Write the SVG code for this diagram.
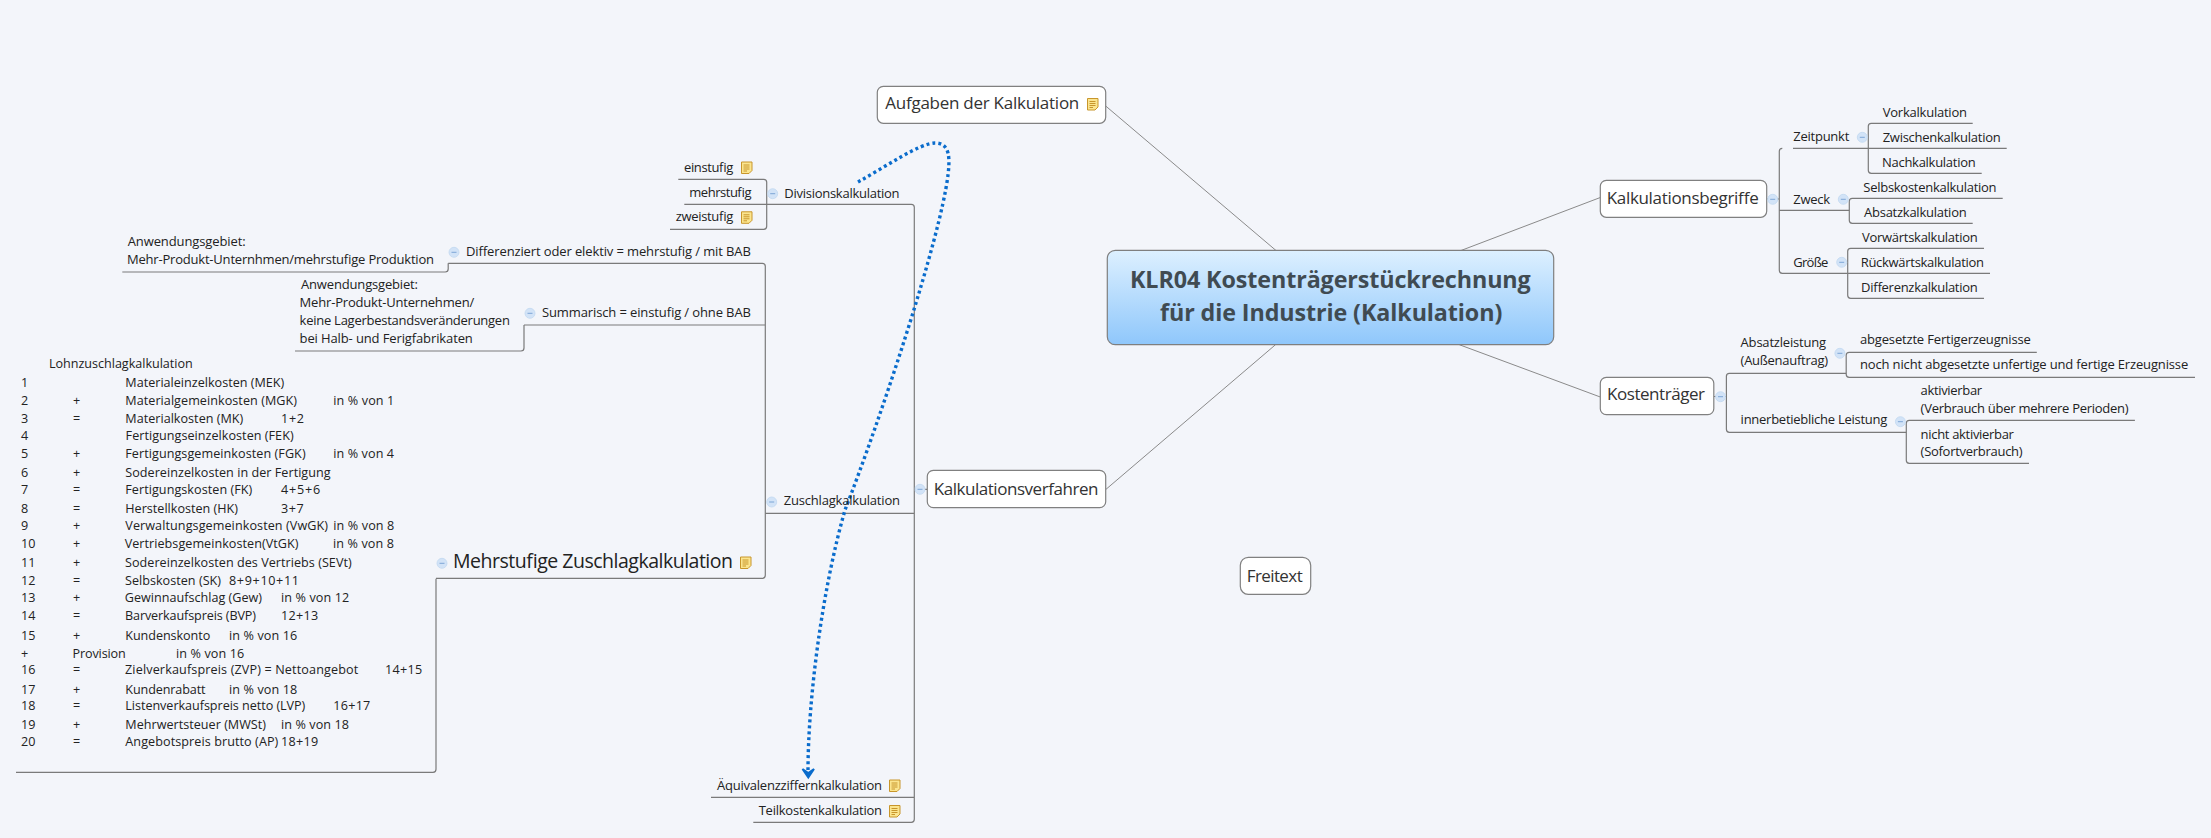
<svg xmlns="http://www.w3.org/2000/svg" width="2211" height="838" viewBox="0 0 2211 838">
<style>
text{font-family:"Open Sans","Noto Sans","Liberation Sans",sans-serif;fill:#222}
.s{font-size:12.6px}
.m{font-size:13px}
.l{font-size:17px;fill:#333}
.x{font-size:19.5px;fill:#222}
.t{font-size:23.3px;font-weight:700;fill:#404b52}
.n{fill:#fff;stroke:#808080;stroke-width:1.2}
.b{fill:none;stroke:#7a7a7a;stroke-width:1.2}
.c{fill:none;stroke:#8a8a8a;stroke-width:1}
.r{fill:none;stroke:#0a6ccc;stroke-width:3.4;stroke-dasharray:3 3}
</style>
<defs>
<linearGradient id="g" x1="0" y1="0" x2="0" y2="1"><stop offset="0" stop-color="#ddf0ff"/><stop offset="1" stop-color="#8fc7fb"/></linearGradient>
<g id="note"><path d="M0.5 0.5H11V9L8 12H0.5Z" fill="#fbe58f" stroke="#c8962c"/><path d="M2.5 3.5H8.5M2.5 5.5H8.5M2.5 7.5H8.5M2.5 9.5H6" stroke="#c8962c" stroke-width="1" fill="none"/></g>
<g id="col"><circle r="5" fill="#d2e3f7" stroke="#c2d8f0" stroke-width="0.8"/><path d="M-2.5 0H2.5" stroke="#7da6d6"/></g>
</defs>
<rect width="2211" height="838" fill="#f3f5fa"/>
<g id="connectors">
<path class="c" d="M1105.7 106L1276 250.5M1106 489.3L1275.5 344.7M1461 250.5L1600.3 197.5M1459.3 344.7L1600.3 397"/>
<path class="b" d="M1766.7 199H1779.3M1793 148.3H1868.3M1782.3 148.3Q1779.3 148.3 1779.3 151.3V270.3Q1779.3 273.3 1782.3 273.3H1847.7M1779.3 210.3H1849.3"/>
<path class="b" d="M1972.7 123.3H1871.3Q1868.3 123.3 1868.3 126.3V170.3Q1868.3 173.3 1871.3 173.3H1981.7M1868.3 148.3H2006.7"/>
<path class="b" d="M2002.7 198.3H1852.3Q1849.3 198.3 1849.3 201.3V220.3Q1849.3 223.3 1852.3 223.3H1972.7"/>
<path class="b" d="M1984 248.3H1850.7Q1847.7 248.3 1847.7 251.3V295.3Q1847.7 298.3 1850.7 298.3H1984M1847.7 273.3H1990"/>
<path class="b" d="M1713.8 396.5H1726.4M1846.2 373.3H1729.4Q1726.4 373.3 1726.4 376.3V429.3Q1726.4 432.3 1729.4 432.3H1906.3"/>
<path class="b" d="M2036.8 352.3H1849.2Q1846.2 352.3 1846.2 355.3V374.3Q1846.2 377.3 1849.2 377.3H2195"/>
<path class="b" d="M2134.9 420.3H1909.3Q1906.3 420.3 1906.3 423.3V460.3Q1906.3 463.3 1909.3 463.3H2029"/>
<path class="b" d="M927.3 489.3H914.3M684.3 204.3H911.3Q914.3 204.3 914.3 207.3V819.3Q914.3 822.3 911.3 822.3H753.3M765.3 513.3H914.3M711 797.3H914.3"/>
<path class="b" d="M678.3 179.3H763.7Q766.7 179.3 766.7 182.3V226.3Q766.7 229.3 763.7 229.3H670"/>
<path class="b" d="M448.2 263.3H762.3Q765.3 263.3 765.3 266.3V575.3Q765.3 578.3 762.3 578.3H436M524 325H765.3"/>
<path class="b" d="M448.2 263.3V269Q448.2 272 445.2 272H122.3"/>
<path class="b" d="M524 325V348Q524 351 521 351H295"/>
<path class="b" d="M436 578.7V769.3Q436 772.3 433 772.3H16"/>
</g>
<g id="relationship">
<path class="r" d="M858 182C885 167 920 143 935 143C950 143 950 158 948 175C940 240 880 420 845 510C822 590 808 700 808 771"/>
<path d="M802.5 769L808.3 777.5L814 769L808.3 773Z" fill="#0a6ccc" stroke="#0a6ccc" stroke-width="2"/>
</g>
<g id="central"><rect x="1107.3" y="250.3" width="446.4" height="94.4" rx="8" fill="url(#g)" stroke="#7f7f7f" stroke-width="1.2"/><text class="t" x="1130" y="288" textLength="400.7">KLR04 Kostenträgerstückrechnung</text><text class="t" x="1160" y="320.5" textLength="342.3">für die Industrie (Kalkulation)</text></g>
<g id="freitext"><rect class="n" x="1240.3" y="557.3" width="70.4" height="37" rx="8"/><text class="l" x="1246.7" y="582.3" textLength="56">Freitext</text></g>
<g id="aufgaben"><rect class="n" x="877.3" y="86.3" width="228.4" height="37" rx="6"/><text class="l" x="885.3" y="109.3" textLength="194">Aufgaben der Kalkulation</text><use href="#note" x="1087" y="98"/></g>
<g id="verfahren"><rect class="n" x="927.3" y="470.3" width="178.4" height="37.4" rx="6"/><text class="l" x="933.7" y="495" textLength="164.7">Kalkulationsverfahren</text><use href="#col" x="920" y="489.3"/></g>
<g id="begriffe"><rect class="n" x="1600.3" y="180.3" width="166.4" height="37" rx="6"/><text class="l" x="1606.7" y="204" textLength="152">Kalkulationsbegriffe</text><use href="#col" x="1772.7" y="199.3"/></g>
<g id="kostentraeger"><rect class="n" x="1600.3" y="377.3" width="113.5" height="37.4" rx="6"/><text class="l" x="1607" y="400" textLength="98">Kostenträger</text><use href="#col" x="1720.5" y="396.7"/></g>
<g id="zeitpunkt"><text class="m" x="1793.3" y="140.7" textLength="56">Zeitpunkt</text><use href="#col" x="1862.3" y="137.3"/>
<text class="m" x="1882.7" y="117.3" textLength="84.3">Vorkalkulation</text><text class="m" x="1882.7" y="142.3" textLength="118">Zwischenkalkulation</text><text class="m" x="1882" y="167.3" textLength="93.7">Nachkalkulation</text></g>
<g id="zweck"><text class="m" x="1793.3" y="204" textLength="36.7">Zweck</text><use href="#col" x="1843.3" y="199.3"/>
<text class="m" x="1863.3" y="192" textLength="133.3">Selbskostenkalkulation</text><text class="m" x="1864" y="217.3" textLength="102.7">Absatzkalkulation</text></g>
<g id="groesse"><text class="m" x="1793.3" y="267.3" textLength="35">Größe</text><use href="#col" x="1841.7" y="262.3"/>
<text class="m" x="1862" y="242.3" textLength="115.7">Vorwärtskalkulation</text><text class="m" x="1860.7" y="267.3" textLength="123.3">Rückwärtskalkulation</text><text class="m" x="1861" y="292.3" textLength="116.7">Differenzkalkulation</text></g>
<g id="absatzleistung"><text class="m" x="1740.6" y="347.3" textLength="85.4">Absatzleistung</text><text class="m" x="1740.6" y="365" textLength="87.4">(Außenauftrag)</text><use href="#col" x="1839.9" y="353.3"/>
<text class="m" x="1860" y="344" textLength="170.8">abgesetzte Fertigerzeugnisse</text><text class="m" x="1860" y="369" textLength="328.2">noch nicht abgesetzte unfertige und fertige Erzeugnisse</text></g>
<g id="innerbetrieblich"><text class="m" x="1740.6" y="424" textLength="146.7">innerbetiebliche Leistung</text><use href="#col" x="1900.4" y="421.7"/>
<text class="m" x="1920.6" y="395.3" textLength="61.5">aktivierbar</text><text class="m" x="1920.6" y="412.7" textLength="208">(Verbrauch über mehrere Perioden)</text><text class="m" x="1920.6" y="438.7" textLength="93.3">nicht aktivierbar</text><text class="m" x="1920.6" y="455.7" textLength="102">(Sofortverbrauch)</text></g>
<g id="division"><text class="m" x="784.3" y="198" textLength="115.3">Divisionskalkulation</text><use href="#col" x="772.7" y="193.7"/>
<text class="m" x="684" y="171.7" textLength="49.3">einstufig</text><use href="#note" x="741" y="161.5"/><text class="m" x="689.3" y="196.7" textLength="62.3">mehrstufig</text><text class="m" x="675.7" y="221.3" textLength="57.7">zweistufig</text><use href="#note" x="741" y="211.3"/></g>
<g id="zuschlag"><text class="m" x="783.7" y="505" textLength="116.3">Zuschlagkalkulation</text><use href="#col" x="771.7" y="502"/></g>
<g id="differenziert"><text class="m" x="466" y="255.7" textLength="284.8">Differenziert oder elektiv = mehrstufig / mit BAB</text><use href="#col" x="454" y="252.3"/><text class="m" x="127.7" y="246" textLength="117.9">Anwendungsgebiet:</text><text class="m" x="127" y="264" textLength="307">Mehr-Produkt-Unternhmen/mehrstufige Produktion</text></g>
<g id="summarisch"><text class="m" x="542" y="316.7" textLength="208.9">Summarisch = einstufig / ohne BAB</text><use href="#col" x="530" y="313.3"/><text class="m" x="301" y="289" textLength="117">Anwendungsgebiet:</text><text class="m" x="299.6" y="307.3" textLength="174.6">Mehr-Produkt-Unternehmen/</text><text class="m" x="299.6" y="325" textLength="210.3">keine Lagerbestandsveränderungen</text><text class="m" x="299.6" y="343.3" textLength="173.2">bei Halb- und Ferigfabrikaten</text></g>
<g id="mehrstufig"><text class="x" x="453" y="568" textLength="280">Mehrstufige Zuschlagkalkulation</text><use href="#note" x="740" y="556.5"/><use href="#col" x="442" y="563.3"/></g>
<g id="aequivalenz"><text class="m" x="717" y="790" textLength="165">Äquivalenzziffernkalkulation</text><use href="#note" x="889" y="779.5"/></g>
<g id="teilkosten"><text class="m" x="758.7" y="815.3" textLength="123.3">Teilkostenkalkulation</text><use href="#note" x="889" y="805"/></g>
<g id="tabelle">
<text class="s" x="49" y="368.3" textLength="143.7">Lohnzuschlagkalkulation</text>
<text class="s" x="21" y="386.7">1</text><text class="s" x="125.3" y="386.7" textLength="159">Materialeinzelkosten (MEK)</text>
<text class="s" x="21" y="404.5">2</text><text class="s" x="73" y="404.5">+</text><text class="s" x="125.3" y="404.5" textLength="171.7">Materialgemeinkosten (MGK)</text><text class="s" x="333.3" y="404.5" textLength="61">in % von 1</text>
<text class="s" x="21" y="422.7">3</text><text class="s" x="73" y="422.7">=</text><text class="s" x="125.3" y="422.7" textLength="118">Materialkosten (MK)</text><text class="s" x="281" y="422.7" textLength="23">1+2</text>
<text class="s" x="21" y="440.3">4</text><text class="s" x="125.6" y="440.3" textLength="168">Fertigungseinzelkosten (FEK)</text>
<text class="s" x="21" y="458.3">5</text><text class="s" x="73" y="458.3">+</text><text class="s" x="125.3" y="458.3" textLength="180.3">Fertigungsgemeinkosten (FGK)</text><text class="s" x="333.3" y="458.3" textLength="60.7">in % von 4</text>
<text class="s" x="21" y="476.7">6</text><text class="s" x="73" y="476.7">+</text><text class="s" x="125.3" y="476.7" textLength="205.3">Sodereinzelkosten in der Fertigung</text>
<text class="s" x="21" y="494.3">7</text><text class="s" x="73" y="494.3">=</text><text class="s" x="125.3" y="494.3" textLength="127">Fertigungskosten (FK)</text><text class="s" x="281" y="494.3" textLength="39.3">4+5+6</text>
<text class="s" x="21" y="512.7">8</text><text class="s" x="73" y="512.7">=</text><text class="s" x="125.3" y="512.7" textLength="112.7">Herstellkosten (HK)</text><text class="s" x="281" y="512.7" textLength="22.7">3+7</text>
<text class="s" x="21" y="530.3">9</text><text class="s" x="73" y="530.3">+</text><text class="s" x="125.3" y="530.3" textLength="202.7">Verwaltungsgemeinkosten (VwGK)</text><text class="s" x="333.3" y="530.3" textLength="61">in % von 8</text>
<text class="s" x="21" y="548.3">10</text><text class="s" x="73" y="548.3">+</text><text class="s" x="124.7" y="548.3" textLength="173.7">Vertriebsgemeinkosten(VtGK)</text><text class="s" x="333" y="548.3" textLength="61">in % von 8</text>
<text class="s" x="21" y="566.7">11</text><text class="s" x="73" y="566.7">+</text><text class="s" x="125" y="566.7" textLength="226.7">Sodereinzelkosten des Vertriebs (SEVt)</text>
<text class="s" x="21" y="584.7">12</text><text class="s" x="73" y="584.7">=</text><text class="s" x="125" y="584.7" textLength="96">Selbskosten (SK)</text><text class="s" x="229" y="584.7" textLength="70">8+9+10+11</text>
<text class="s" x="21" y="602.3">13</text><text class="s" x="73" y="602.3">+</text><text class="s" x="124.7" y="602.3" textLength="137.3">Gewinnaufschlag (Gew)</text><text class="s" x="281" y="602.3" textLength="68.3">in % von 12</text>
<text class="s" x="21" y="620.3">14</text><text class="s" x="73" y="620.3">=</text><text class="s" x="125" y="620.3" textLength="131">Barverkaufspreis (BVP)</text><text class="s" x="281" y="620.3" textLength="37.3">12+13</text>
<text class="s" x="21" y="639.7">15</text><text class="s" x="73" y="639.7">+</text><text class="s" x="125.3" y="639.7" textLength="85">Kundenskonto</text><text class="s" x="229" y="639.7" textLength="68.3">in % von 16</text>
<text class="s" x="21" y="657.7">+</text><text class="s" x="72.5" y="657.7" textLength="53.3">Provision</text><text class="s" x="176" y="657.7" textLength="68.3">in % von 16</text>
<text class="s" x="21" y="674.3">16</text><text class="s" x="73" y="674.3">=</text><text class="s" x="125" y="674.3" textLength="233.3">Zielverkaufspreis (ZVP) = Nettoangebot</text><text class="s" x="385" y="674.3" textLength="37.3">14+15</text>
<text class="s" x="21" y="693.7">17</text><text class="s" x="73" y="693.7">+</text><text class="s" x="125.3" y="693.7" textLength="80.3">Kundenrabatt</text><text class="s" x="229" y="693.7" textLength="68.3">in % von 18</text>
<text class="s" x="21" y="710.3">18</text><text class="s" x="73" y="710.3">=</text><text class="s" x="125.3" y="710.3" textLength="180">Listenverkaufspreis netto (LVP)</text><text class="s" x="333.3" y="710.3" textLength="37">16+17</text>
<text class="s" x="21" y="728.7">19</text><text class="s" x="73" y="728.7">+</text><text class="s" x="125.3" y="728.7" textLength="140.7">Mehrwertsteuer (MWSt)</text><text class="s" x="281" y="728.7" textLength="68">in % von 18</text>
<text class="s" x="21" y="746.3">20</text><text class="s" x="73" y="746.3">=</text><text class="s" x="125.3" y="746.3" textLength="153">Angebotspreis brutto (AP)</text><text class="s" x="281" y="746.3" textLength="37.3">18+19</text>
</g>
</svg>
